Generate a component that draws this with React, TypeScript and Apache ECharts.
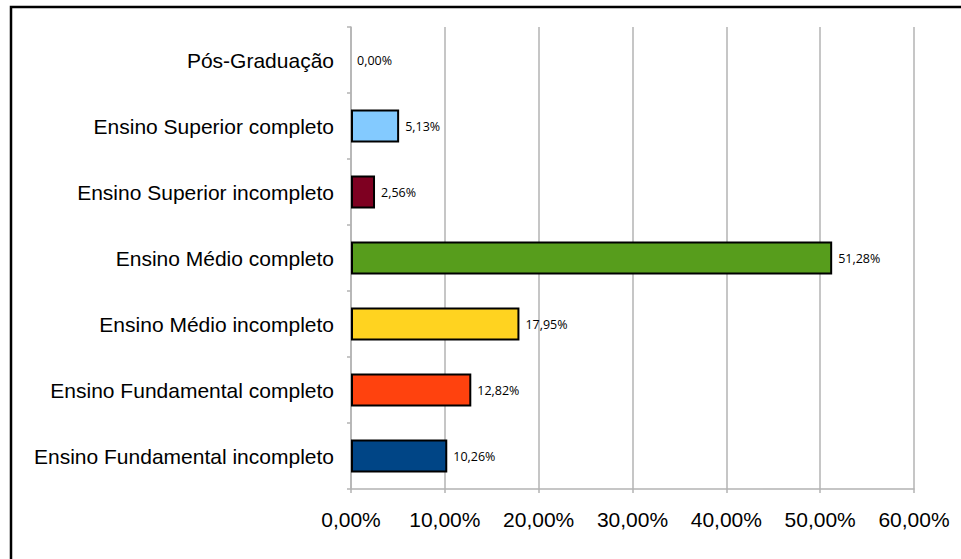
import React, { useEffect, useRef } from "react";
import * as echarts from "echarts";

const categories = [
  "Ensino Fundamental incompleto",
  "Ensino Fundamental completo",
  "Ensino Médio incompleto",
  "Ensino Médio completo",
  "Ensino Superior incompleto",
  "Ensino Superior completo",
  "Pós-Graduação",
];
const values = [10.26, 12.82, 17.95, 51.28, 2.56, 5.13, 0.0];
const barColors = ["#004586", "#FF420E", "#FFD320", "#579D1C", "#7E0021", "#83CAFF", "#FFFFFF"];
const xTicks = [0, 10, 20, 30, 40, 50, 60];

const fmt = (v: number) => v.toFixed(2).replace(".", ",") + "%";

export default function App() {
  const ref = useRef<HTMLDivElement>(null);
  useEffect(() => {
    if (!ref.current) return;
    const chart = echarts.init(ref.current, undefined, { renderer: "svg" });
    chart.setOption({
      animation: false,
      backgroundColor: "#ffffff",
      graphic: [
        {
          type: "rect",
          shape: { x: 11, y: 7, width: 1000, height: 600 },
          style: { fill: "none", stroke: "#000", lineWidth: 2.5 },
          silent: true,
        },
      ],
      grid: { left: 351, right: 47, top: 27, bottom: 70, containLabel: false },
      xAxis: {
        type: "value",
        min: xTicks[0],
        max: xTicks[xTicks.length - 1],
        interval: 10,
        axisLine: { show: true, lineStyle: { color: "#b3b3b3", width: 1.5 } },
        axisTick: { show: true, length: 4, lineStyle: { color: "#b3b3b3", width: 1.5 } },
        splitLine: { show: true, lineStyle: { color: "#b3b3b3", width: 1.5 } },
        axisLabel: {
          color: "#000",
          fontFamily: "Liberation Sans, Arial, sans-serif",
          fontSize: 21,
          margin: 20,
          formatter: (v: number) => fmt(v),
        },
      },
      yAxis: {
        type: "category",
        data: categories,
        axisLine: { show: true, lineStyle: { color: "#b3b3b3", width: 1.5 } },
        axisTick: { show: true, length: 4, lineStyle: { color: "#b3b3b3", width: 1.5 } },
        axisLabel: {
          color: "#000",
          fontFamily: "Liberation Sans, Arial, sans-serif",
          fontSize: 21,
          margin: 17,
        },
      },
      series: [
        {
          type: "bar",
          barCategoryGap: "50%",
          data: values.map((v, i) => ({
            value: v,
            itemStyle: {
              color: barColors[i],
              borderColor: "#000",
              borderWidth: v > 0 ? 2 : 0,
            },
          })),
          label: {
            show: true,
            position: "right",
            distance: 6,
            color: "#000",
            fontFamily: "Open Sans, Liberation Sans, sans-serif",
            fontSize: 12.5,
            formatter: (p: any) => fmt(p.value),
          },
        },
      ],
    });
    return () => chart.dispose();
  }, []);
  return (
    <div
      ref={ref}
      style={{ position: "fixed", left: 0, top: 0, width: 961, height: 559 }}
    />
  );
}
